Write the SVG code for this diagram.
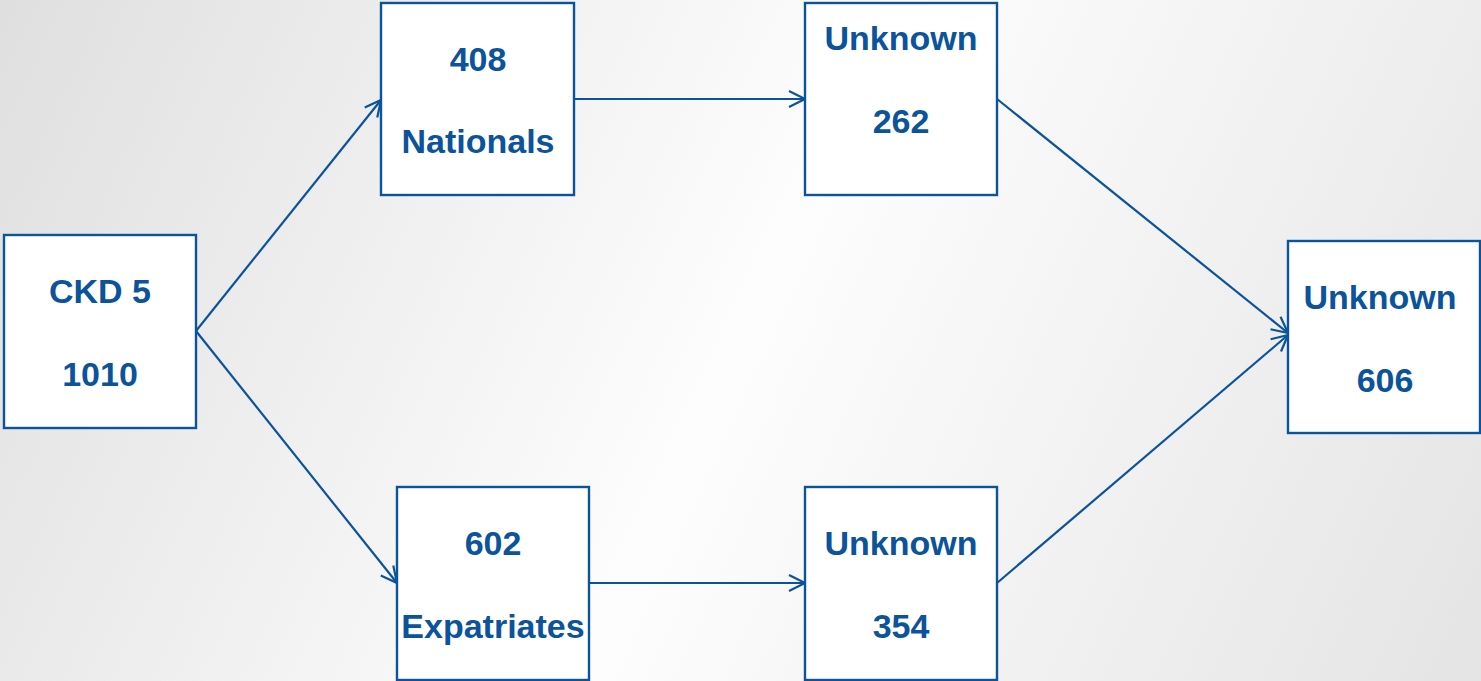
<svg xmlns="http://www.w3.org/2000/svg" width="1481" height="681" viewBox="0 0 1481 681">
<defs>
<linearGradient id="bg" x1="0" y1="0" x2="1481" y2="681" gradientUnits="userSpaceOnUse">
<stop offset="0" stop-color="#dfdfdf"/>
<stop offset="0.5" stop-color="#fdfdfd"/>
<stop offset="1" stop-color="#e4e4e4"/>
</linearGradient>
<marker id="arr" viewBox="0 0 20 20" refX="18" refY="10" markerWidth="20" markerHeight="20" markerUnits="userSpaceOnUse" orient="auto">
<path d="M2,2 L18,10 L2,18" fill="none" stroke="#0b539b" stroke-width="2.2"/>
</marker>
<style>
.box{fill:#ffffff;stroke:#0b539b;stroke-width:2.4}
.t{font-family:"Liberation Sans",Arial,sans-serif;font-weight:bold;font-size:34px;fill:#0b539b;text-anchor:middle}
.c{stroke:#0b539b;stroke-width:2.2;fill:none;marker-end:url(#arr)}
</style>
</defs>
<rect x="0" y="0" width="1481" height="681" fill="url(#bg)"/>
<g id="connectors">
<line class="c" x1="196" y1="331" x2="381" y2="100"/>
<line class="c" x1="196" y1="331" x2="397" y2="583"/>
<line class="c" x1="574" y1="99" x2="805" y2="99"/>
<line class="c" x1="589" y1="583" x2="805" y2="583"/>
<line class="c" x1="997" y1="99" x2="1288" y2="333"/>
<line class="c" x1="997" y1="583" x2="1288" y2="335"/>
</g>
<g id="ckd5">
<rect class="box" x="4" y="235" width="192" height="193"/>
<text class="t" x="100" y="303">CKD 5</text>
<text class="t" x="100" y="386">1010</text>
</g>
<g id="nationals">
<rect class="box" x="381" y="3" width="193" height="192"/>
<text class="t" x="478" y="71">408</text>
<text class="t" x="478" y="153">Nationals</text>
</g>
<g id="unknown262">
<rect class="box" x="805" y="3" width="192" height="192"/>
<text class="t" x="901" y="50">Unknown</text>
<text class="t" x="901" y="133">262</text>
</g>
<g id="expatriates">
<rect class="box" x="397" y="487" width="192" height="193"/>
<text class="t" x="493" y="555">602</text>
<text class="t" x="493" y="638">Expatriates</text>
</g>
<g id="unknown354">
<rect class="box" x="805" y="487" width="192" height="193"/>
<text class="t" x="901" y="555">Unknown</text>
<text class="t" x="901" y="638">354</text>
</g>
<g id="unknown606">
<rect class="box" x="1288" y="241" width="192" height="192"/>
<text class="t" x="1380" y="309">Unknown</text>
<text class="t" x="1385" y="392">606</text>
</g>
</svg>
